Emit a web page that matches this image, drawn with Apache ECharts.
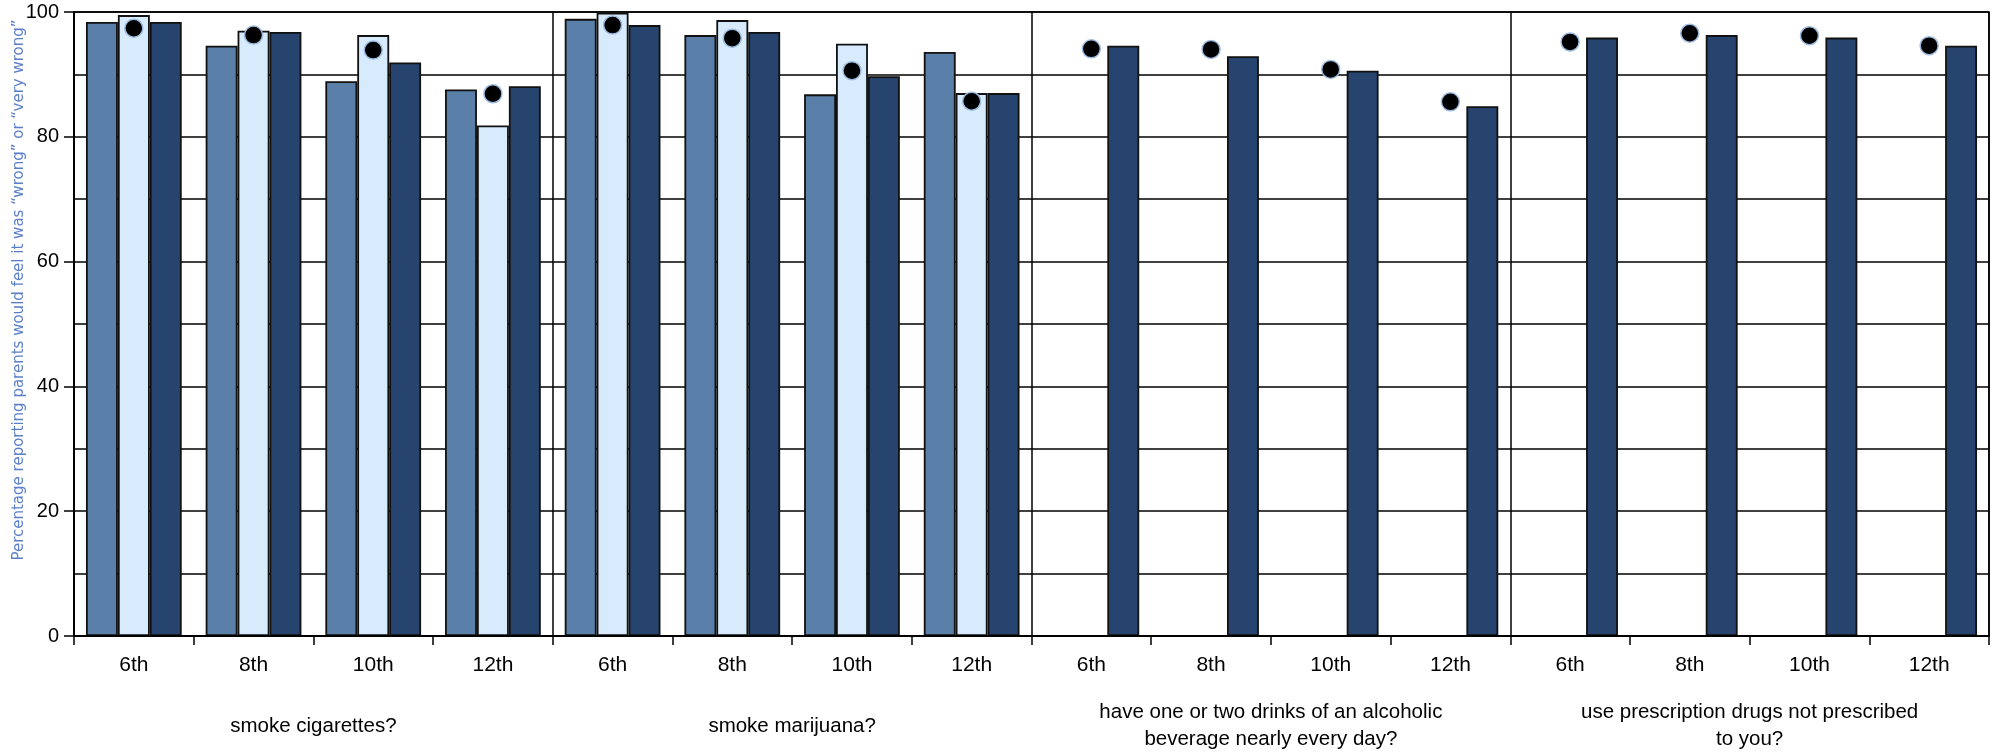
<!DOCTYPE html>
<html>
<head>
<meta charset="utf-8">
<script src="https://cdn.jsdelivr.net/npm/echarts@6/dist/echarts.min.js"></script>
<style>
  html, body { margin: 0; padding: 0; background: #ffffff; }
  #chart { width: 1997px; height: 753px; }
</style>
</head>
<body>
<div id="chart"></div>
<script>
// ---- data ----
const grades = ['6th', '8th', '10th', '12th'];
const panels = [
  'smoke cigarettes?',
  'smoke marijuana?',
  'have one or two drinks of an alcoholic\nbeverage nearly every day?',
  'use prescription drugs not prescribed\nto you?'
];
const yTicks = [0, 20, 40, 60, 80, 100];
const yAxisTitle = 'Percentage reporting parents would feel it was \u201Cwrong\u201D or \u201Cvery wrong\u201D';

// values per category (4 panels x 4 grades)
const seriesMid   = [98.4, 94.6, 88.9, 87.6,  98.9, 96.3, 86.8, 93.6,  null, null, null, null,  null, null, null, null];
const seriesLight = [99.5, 97.0, 96.3, 81.8,  99.9, 98.7, 94.9, 87.0,  null, null, null, null,  null, null, null, null];
const seriesDark  = [98.4, 96.8, 91.9, 88.1,  97.9, 96.8, 89.7, 87.0,  94.6, 92.9, 90.6, 84.9,  95.9, 96.3, 95.9, 94.6];
const seriesDots  = [97.4, 96.3, 93.9, 86.9,  97.9, 95.8, 90.6, 85.7,  94.1, 94.0, 90.8, 85.6,  95.2, 96.6, 96.2, 94.6];

// ---- build ----
const categories = [];
panels.forEach(() => grades.forEach(g => categories.push(g)));

const chart = echarts.init(document.getElementById('chart'), null, { renderer: 'canvas' });
const FONT = '"Liberation Sans", Arial, sans-serif';
const barBorder = { borderColor: '#111111', borderWidth: 1.8 };

chart.setOption({
  animation: false,
  backgroundColor: '#ffffff',
  grid: {
    left: 74, right: 8, top: 12, bottom: 114,
    show: true, borderColor: '#000000', borderWidth: 1.5, backgroundColor: 'transparent'
  },
  xAxis: [
    {
      type: 'category',
      data: categories,
      position: 'bottom',
      axisLine: { show: true, lineStyle: { color: '#000000', width: 2 } },
      axisTick: { show: true, interval: 0, length: 9, lineStyle: { color: '#000000', width: 1.5 } },
      axisLabel: { interval: 0, fontFamily: FONT, fontSize: 21, color: '#000000', margin: 19 },
      splitLine: { show: false },
      z: 5
    },
    {
      type: 'category',
      data: panels,
      position: 'bottom',
      offset: 0,
      axisLine: { show: false },
      axisTick: { show: false },
      axisLabel: {
        interval: 0, fontFamily: FONT, fontSize: 20.5, color: '#000000',
        margin: 90, verticalAlign: 'middle', lineHeight: 27, align: 'center'
      },
      splitLine: { show: true, lineStyle: { color: '#000000', width: 1.5 } }
    }
  ],
  yAxis: {
    type: 'value',
    min: yTicks[0],
    max: yTicks[yTicks.length - 1],
    interval: yTicks[1] - yTicks[0],
    axisLine: { show: true, lineStyle: { color: '#000000', width: 2 } },
    axisTick: { show: true, length: 10, lineStyle: { color: '#000000', width: 1.5 } },
    axisLabel: { fontFamily: FONT, fontSize: 20, color: '#000000', margin: 15 },
    splitLine: { show: true, lineStyle: { color: '#000000', width: 1.5 } },
    minorTick: { show: false, splitNumber: 2 },
    minorSplitLine: { show: true, lineStyle: { color: '#000000', width: 1.5 } }
  },
  graphic: [
    {
      type: 'text',
      x: 19, y: 290,
      rotation: Math.PI / 2,
      style: {
        text: yAxisTitle,
        fontFamily: '"Liberation Sans Narrow", "DejaVu Sans Condensed", sans-serif',
        fontSize: 16.7,
        fill: '#5b7fc8',
        align: 'center',
        verticalAlign: 'middle'
      }
    }
  ],
  series: [
    {
      name: 'mid', type: 'bar', xAxisIndex: 0, data: seriesMid,
      barGap: '0%', barCategoryGap: '20%',
      itemStyle: Object.assign({ color: '#5a7fa9' }, barBorder)
    },
    {
      name: 'light', type: 'bar', xAxisIndex: 0, data: seriesLight,
      barGap: '0%', barCategoryGap: '20%',
      itemStyle: Object.assign({ color: '#d7ebfc' }, barBorder)
    },
    {
      name: 'dark', type: 'bar', xAxisIndex: 0, data: seriesDark,
      barGap: '0%', barCategoryGap: '20%',
      itemStyle: Object.assign({ color: '#26446e' }, barBorder)
    },
    {
      name: 'dots', type: 'scatter', xAxisIndex: 0, data: seriesDots,
      symbol: 'circle', symbolSize: 18, z: 10,
      itemStyle: { color: '#000000', borderColor: '#9dbbe0', borderWidth: 1.5, opacity: 1 }
    }
  ]
});
</script>
</body>
</html>
